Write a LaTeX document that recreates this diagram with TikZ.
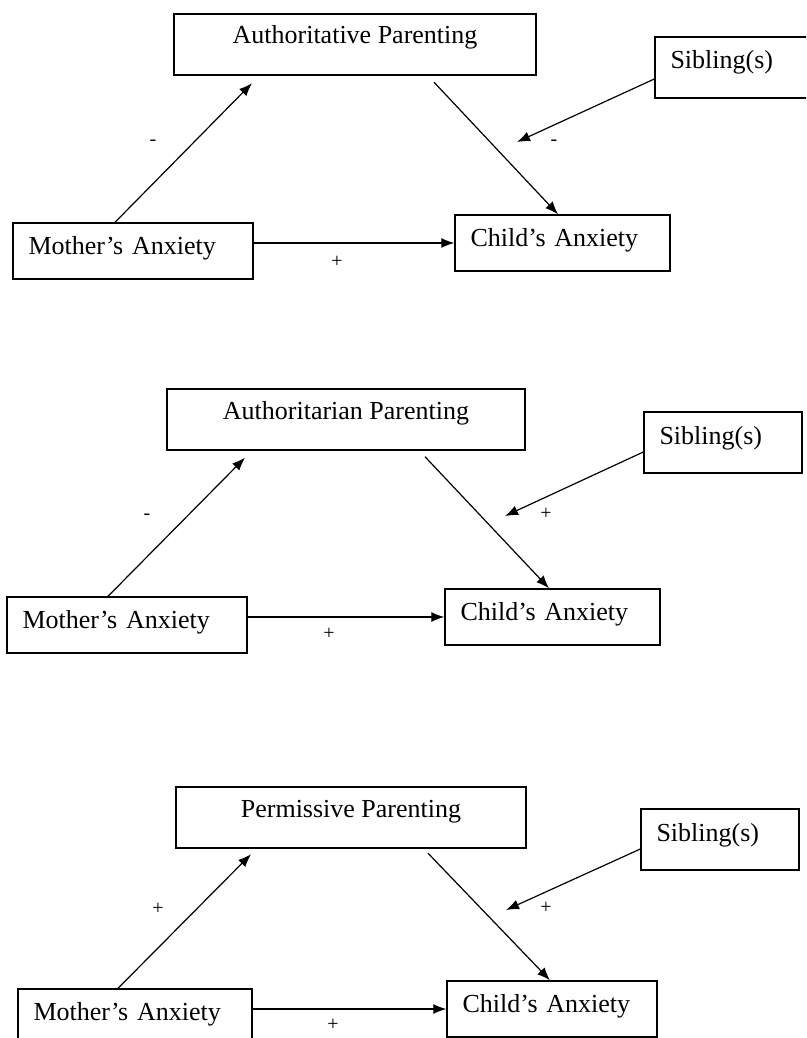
\documentclass[tikz,border=0pt]{standalone}
\usepackage{fontspec}
\setmainfont{Liberation Serif}
\usetikzlibrary{arrows.meta, positioning}
\usetikzlibrary{calc}

\tikzset{
	parbox/.style={draw, line width=1.4pt, minimum width=#1, inner xsep=0pt, inner ysep=0pt,
		text height=30pt, text depth=31pt, font=\fontsize{26}{30}\selectfont},
	sibbox/.style={draw, line width=1.4pt, text width=#1, align=left, inner xsep=15.5pt, inner ysep=0pt,
		text height=32pt, text depth=29pt, font=\fontsize{26}{30}\selectfont},
	varbox/.style={draw, line width=1.4pt, text width=#1, align=left, inner xsep=15.5pt, inner ysep=0pt,
		text height=31.5pt, text depth=24.5pt, font=\fontsize{26}{30}\selectfont},
	sign/.style={inner sep=0pt, font=\fontsize{20}{22}\selectfont},
	link/.style={-{Latex[length=13pt,width=10pt]}, line width=1.2pt}
}

\begin{document}
\begin{tikzpicture}[x=1pt, y=1pt]
		\useasboundingbox (0,0) rectangle (806,-1038);
		\clip (0,0) rectangle (806,-1038);
		% authoritative
		\draw (355,-44.5) node[parbox=362pt] (auth1) {Authoritative Parenting}
		(734,-67.5) node[sibbox=127pt] (sib1) {Sibling(s)}
		(133,-251) node[varbox=209pt] (mom1) {Mother's Anxiety}
		(562.5,-243) node[varbox=184pt] (kid1) {Child's Anxiety};
		\coordinate (mod1) at (517,-142);
		\node[sign] (s1a) at (153,-143) {-};
		\node[sign] (s1b) at (554,-143) {-};
		\node[sign] (s1c) at (337,-262) {+};
		
		\draw[link] ([xshift=-18pt]mom1.north) -- ([xshift=-103pt,yshift=-7.5pt]auth1.south);
		\draw[link] ([xshift=79pt,yshift=-6.5pt]auth1.south) -- ([xshift=-4.5pt]kid1.north);
		\draw[link] ([yshift=-11.5pt]sib1.west) -- (mod1);
		\draw[link] (mom1.east |- kid1.west) -- (kid1.west);
		
		% authoritarian
		\draw (346,-419.5) node[parbox=358pt] (auth2) {Authoritarian Parenting}
		(723,-442.5) node[sibbox=127pt] (sib2) {Sibling(s)}
		(127,-625) node[varbox=209pt] (mom2) {Mother's Anxiety}
		(552.5,-617) node[varbox=184pt] (kid2) {Child's Anxiety};
		\coordinate (mod2) at (505,-516);
		\node[sign] (s2a) at (147,-517) {-};
		\node[sign] (s2b) at (546,-514) {+};
		\node[sign] (s2c) at (329,-634) {+};
		
		\draw[link] ([xshift=-19pt]mom2.north) -- ([xshift=-101pt,yshift=-7pt]auth2.south);
		\draw[link] ([xshift=79pt,yshift=-6pt]auth2.south) -- ([xshift=-3.5pt]kid2.north);
		\draw[link] ([yshift=-9.5pt]sib2.west) -- (mod2);
		\draw[link] (mom2.east |- kid2.west) -- (kid2.west);
		
		% permissive
		\draw (351,-817.5) node[parbox=350pt] (auth3) {Permissive Parenting}
		(720,-839.5) node[sibbox=127pt] (sib3) {Sibling(s)}
		(135,-1017) node[varbox=203pt] (mom3) {Mother's Anxiety}
		(552,-1009) node[varbox=179pt] (kid3) {Child's Anxiety};
		\coordinate (mod3) at (506,-910);
		\node[sign] (s3a) at (158,-909) {+};
		\node[sign] (s3b) at (546,-908) {+};
		\node[sign] (s3c) at (333,-1025) {+};
		
		\draw[link] ([xshift=-17pt]mom3.north) -- ([xshift=-100pt,yshift=-5.5pt]auth3.south);
		\draw[link] ([xshift=77pt,yshift=-4.5pt]auth3.south) -- ([xshift=-2pt]kid3.north);
		\draw[link] ([yshift=-9.5pt]sib3.west) -- (mod3);
		\draw[link] (mom3.east |- kid3.west) -- (kid3.west);
	\end{tikzpicture}
\end{document}
